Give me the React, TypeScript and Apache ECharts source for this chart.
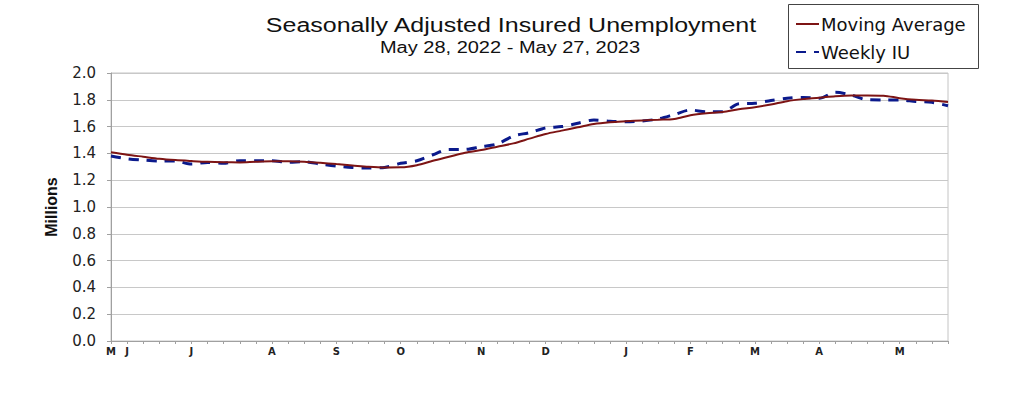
import React, { useEffect, useRef } from "react";
import * as echarts from "echarts";

const titleText = "Seasonally Adjusted Insured Unemployment";
const subtitleText = "May 28, 2022 - May 27, 2023";
const yAxisName = "Millions";

// 53 weekly observations, May 28, 2022 .. May 27, 2023
const firstWeek = "2022-05-28";
const weekCount = 53;

const monthLabelIndex = [0, 1, 5, 10, 14, 18, 23, 27, 32, 36, 40, 44, 49];
const monthLabels = ["M", "J", "J", "A", "S", "O", "N", "D", "J", "F", "M", "A", "M"];

const movingAverage = [
  1.408, 1.39, 1.375, 1.36, 1.35, 1.343, 1.337, 1.334, 1.333, 1.338,
  1.341, 1.341, 1.338, 1.33, 1.32, 1.31, 1.3, 1.295, 1.296, 1.312,
  1.345, 1.375, 1.405, 1.425, 1.45, 1.475, 1.51, 1.545, 1.57, 1.595,
  1.62, 1.633, 1.64, 1.646, 1.651, 1.657, 1.685, 1.7, 1.709, 1.73,
  1.745, 1.765, 1.79, 1.805, 1.815, 1.827, 1.833, 1.833, 1.831, 1.812,
  1.8, 1.795, 1.784,
];

const weeklyIU = [
  1.381, 1.36, 1.35, 1.343, 1.343, 1.32, 1.333, 1.326, 1.346, 1.346,
  1.346, 1.333, 1.338, 1.32, 1.305, 1.295, 1.291, 1.295, 1.326, 1.345,
  1.39, 1.43, 1.43, 1.45, 1.47, 1.53, 1.555, 1.59, 1.6, 1.625,
  1.649, 1.64, 1.637, 1.642, 1.657, 1.69, 1.724, 1.71, 1.711, 1.77,
  1.775, 1.795, 1.811, 1.818, 1.811, 1.856, 1.835, 1.8, 1.799, 1.799,
  1.787, 1.781, 1.756,
];

const yMin = 0;
const yMax = 2.0;
const yStep = 0.2;

function buildWeeks(): string[] {
  const out: string[] = [];
  const d0 = new Date(firstWeek + "T00:00:00Z");
  for (let i = 0; i < weekCount; i++) {
    const d = new Date(d0.getTime() + i * 7 * 86400000);
    out.push(d.toISOString().slice(0, 10));
  }
  return out;
}

export default function App() {
  const ref = useRef<HTMLDivElement>(null);
  useEffect(() => {
    if (!ref.current) return;
    const chart = echarts.init(ref.current, undefined, { renderer: "svg" });
    const weeks = buildWeeks();
    const labelMap: Record<number, string> = {};
    monthLabelIndex.forEach((idx, k) => (labelMap[idx] = monthLabels[k]));

    chart.setOption({
      animation: false,
      backgroundColor: "#ffffff",
      grid: {
        left: 111,
        right: 75,
        top: 73,
        bottom: 53,
        show: true,
        borderColor: "#c4c4c4",
        borderWidth: 1,
      },
      graphic: [
        {
          type: "text",
          x: 511,
          y: 25,
          scaleX: 1.25,
          style: {
            text: titleText,
            font: "20px 'Liberation Sans', Arial, sans-serif",
            fill: "#111",
            textAlign: "center",
            textVerticalAlign: "middle",
          },
        },
        {
          type: "text",
          x: 510,
          y: 48,
          scaleX: 1.25,
          style: {
            text: subtitleText,
            font: "16px 'Liberation Sans', Arial, sans-serif",
            fill: "#111",
            textAlign: "center",
            textVerticalAlign: "middle",
          },
        },
        {
          type: "rect",
          shape: { x: 788.5, y: 4.5, width: 190, height: 64 },
          style: { fill: "none", stroke: "#444", lineWidth: 1 },
        },
      ],
      legend: {
        orient: "vertical",
        left: 795,
        top: 15,
        itemWidth: 23,
        itemHeight: 14,
        itemGap: 10,
        padding: 0,
        itemStyle: { opacity: 0 },
        textStyle: {
          fontFamily: "'DejaVu Sans', sans-serif",
          fontSize: 18,
          color: "#111",
          padding: [0, 0, 0, -3],
        },
        data: ["Moving Average", "Weekly IU"],
      },
      xAxis: {
        type: "category",
        data: weeks,
        boundaryGap: false,
        axisLine: { lineStyle: { color: "#a0a0a0", width: 1 } },
        axisTick: {
          show: true,
          interval: 0,
          length: 3,
          lineStyle: { color: "#a0a0a0" },
        },
        axisLabel: {
          interval: 0,
          margin: 5,
          fontFamily: "'DejaVu Sans', sans-serif",
          fontWeight: "bold",
          fontSize: 10,
          color: "#222",
          formatter: (_v: string, i: number) => labelMap[i] ?? "",
        },
        splitLine: { show: false },
      },
      yAxis: {
        type: "value",
        min: yMin,
        max: yMax,
        interval: yStep,
        name: yAxisName,
        nameLocation: "middle",
        nameGap: 52,
        nameRotate: 90,
        nameTextStyle: {
          fontFamily: "'Liberation Sans', Arial, sans-serif",
          fontWeight: "bold",
          fontSize: 16,
          color: "#111",
        },
        axisLine: { show: true, lineStyle: { color: "#a0a0a0", width: 1 } },
        axisTick: { show: true, length: 4, lineStyle: { color: "#a0a0a0" } },
        axisLabel: {
          margin: 15,
          fontFamily: "'DejaVu Sans', sans-serif",
          fontSize: 15,
          color: "#222",
          formatter: (v: number) => v.toFixed(1),
        },
        splitLine: { show: true, lineStyle: { color: "#c8c8c8", width: 1 } },
      },
      series: [
        {
          name: "Moving Average",
          type: "line",
          data: movingAverage,
          symbol: "none",
          smooth: 0.3,
          z: 3,
          itemStyle: { color: "#7d1414" },
          lineStyle: { color: "#7d1414", width: 2 },
        },
        {
          name: "Weekly IU",
          type: "line",
          data: weeklyIU,
          symbol: "none",
          smooth: 0.3,
          z: 2,
          itemStyle: { color: "#0b1a8c" },
          lineStyle: { color: "#0b1a8c", width: 3, type: [10, 8] },
        },
      ],
    });
    return () => chart.dispose();
  }, []);

  return (
    <div
      ref={ref}
      style={{
        position: "absolute",
        left: 0,
        top: 0,
        width: 1023,
        height: 394,
        background: "#fff",
      }}
    />
  );
}
